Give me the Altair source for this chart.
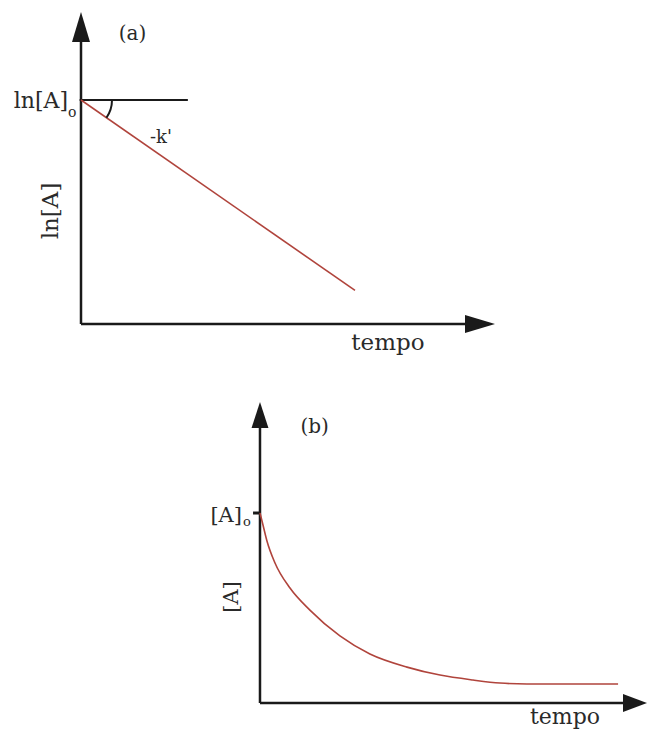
import altair as alt
import pandas as pd

# Panel (a): first-order kinetics, ln[A] falls linearly with time (slope -k')
a_time = [0, 10]
a_ln_conc = [4.0, 0.6]
a_ln_conc0 = 4.0

# Panel (b): first-order kinetics, [A] decays towards a plateau
b_time = [0, 0.125, 0.29, 0.625, 1.25, 2.08, 3.33, 4.58, 6.125, 7.5, 8.875, 10.0, 11.125, 14.92]
b_conc = [1.0, 0.937, 0.853, 0.737, 0.605, 0.489, 0.353, 0.258, 0.189, 0.147, 0.121, 0.105, 0.10, 0.10]
b_conc0 = 1.0

# Texts
a_tag, b_tag = "(a)", "(b)"
a_ylabel, b_ylabel = "ln[A]", "[A]"
a_init, b_init, sub0 = "ln[A]", "[A]", "o"
slope_label = "-k'"
time_label = "tempo"

RED = "#b0443c"
INK = "#1a1a1a"
TEXT = "#2a2a2a"
FONT = "DejaVu Serif"
W, H = 648, 365

UP = "M0,0L0.6,2L-0.6,2Z"
RIGHT = "M0,0L-2,-0.6L-2,0.6Z"


def make_panel(xdom, ydom):
    def enc(df, **extra):
        return dict(
            x=alt.X("x:Q", scale=alt.Scale(domain=xdom), axis=None),
            y=alt.Y("y:Q", scale=alt.Scale(domain=ydom), axis=None),
            **extra,
        )

    def seg(x0, x1, y0, y1, color=INK, width=2.5):
        df = pd.DataFrame({"x": [x0], "x2": [x1], "y": [y0], "y2": [y1]})
        return alt.Chart(df).mark_rule(color=color, strokeWidth=width).encode(
            **enc(df, x2="x2:Q", y2="y2:Q")
        )

    def head(x, y, shape, size):
        df = pd.DataFrame({"x": [x], "y": [y]})
        return alt.Chart(df).mark_point(
            shape=shape, size=size, filled=True, color=INK, opacity=1, strokeWidth=0
        ).encode(**enc(df))

    def text(t, x, y, size, align="center", angle=0):
        df = pd.DataFrame({"x": [x], "y": [y], "t": [t]})
        return alt.Chart(df).mark_text(
            font=FONT, fontSize=size, color=TEXT, align=align,
            baseline="alphabetic", angle=angle,
        ).encode(**enc(df, text="t:N"))

    def curve(xs, ys, interp="linear"):
        df = pd.DataFrame({"x": xs, "y": ys})
        return alt.Chart(df).mark_line(
            color=RED, strokeWidth=1.6, interpolate=interp
        ).encode(**enc(df))

    def arc(x, y, r, t0, t1):
        df = pd.DataFrame({"x": [x], "y": [y]})
        return alt.Chart(df).mark_arc(
            radius=r + 1, radius2=r - 1, theta=t0, theta2=t1, color=INK
        ).encode(**enc(df))

    return seg, head, text, curve, arc


# ---- panel (a) ----
ax_dom, ay_dom = [-2.956, 20.693], [-0.732, 5.786]
seg, head, text, curve, arc = make_panel(ax_dom, ay_dom)
panel_a = alt.layer(
    seg(0, 0, 0, 5.25),
    head(0, 5.571, UP, 900),
    seg(0, 14.2, 0, 0),
    head(15.11, 0, RIGHT, 900),
    seg(-0.05, 3.9, a_ln_conc0, a_ln_conc0, width=2),
    curve(a_time, a_ln_conc),
    arc(0, a_ln_conc0, 31, 1.5708, 2.178),
    text(a_tag, 1.88, 5.07, 20),
    text(a_init, -0.474, 3.857, 22, align="right"),
    text(sub0, -0.474, 3.69, 14, align="left"),
    text(slope_label, 2.92, 3.232, 18),
    text(a_ylabel, -0.84, 2.018, 23, angle=270),
    text(time_label, 11.2, -0.464, 23),
).properties(width=W, height=H)

# ---- panel (b) ----
bx_dom, by_dom = [-10.833, 16.167], [-0.142, 1.779]
seg, head, text, curve, arc = make_panel(bx_dom, by_dom)
panel_b = alt.layer(
    seg(0, 0, 0, 1.463),
    head(0, 1.584, "M0,0L0.65,2L-0.65,2Z", 676),
    seg(0, 15.17, 0, 0),
    head(16.125, 0, "M0,0L-2,-0.75L-2,0.75Z", 576),
    seg(-0.29, 0.04, b_conc0, b_conc0, width=3),
    curve(b_time, b_conc, interp="monotone"),
    text(b_tag, 2.28, 1.421, 20),
    text(b_init, -0.75, 0.953, 21, align="right"),
    text(sub0, -0.71, 0.932, 13, align="left"),
    text(b_ylabel, -0.917, 0.558, 21, angle=270),
    text(time_label, 12.71, -0.112, 22),
).properties(width=W, height=H)

chart = (
    alt.vconcat(panel_a, panel_b, spacing=0, bounds="flush")
    .properties(padding=0, background="white")
    .configure_view(stroke=None)
)

chart.save("out.html", embed_options={"renderer": "svg", "actions": False})
